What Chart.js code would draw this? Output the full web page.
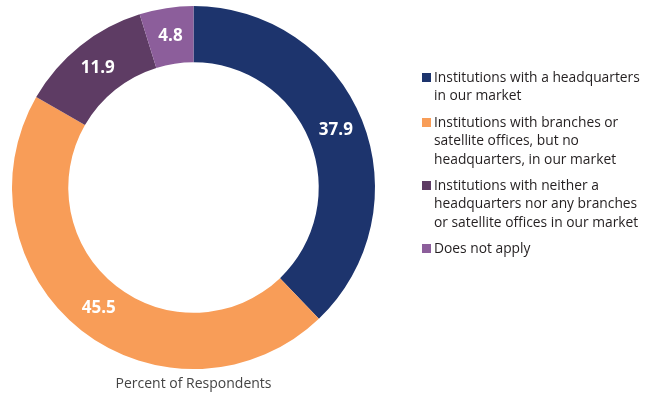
<!DOCTYPE html>
<html>
<head>
<meta charset="utf-8">
<script src="https://cdn.jsdelivr.net/npm/chart.js@4.4.1/dist/chart.umd.min.js"></script>
<style>
  html, body { margin: 0; padding: 0; background: #fff; }
  #wrap { position: relative; width: 658px; height: 393px; }
  #legend {
    position: absolute; left: 422px; top: 68px; width: 236px;
    font-family: "Open Sans", sans-serif; font-size: 13.8px; color: #231f20;
    line-height: 18.4px;
  }
  .item { display: flex; align-items: flex-start; margin-bottom: 8px; }
  .swatch { width: 9px; height: 9px; flex: none; margin: 5px 3px 0 0; }
</style>
</head>
<body>
<div id="wrap">
  <canvas id="chart" width="658" height="393"></canvas>
  <div id="legend"></div>
</div>
<script>
const categories = [
  "Institutions with a headquarters in our market",
  "Institutions with branches or satellite offices, but no headquarters, in our market",
  "Institutions with neither a headquarters nor any branches or satellite offices in our market",
  "Does not apply"
];
// manual line breaks for the legend
const legendLines = [
  ["Institutions with a headquarters", "in our market"],
  ["Institutions with branches or", "satellite offices, but no", "headquarters, in our market"],
  ["Institutions with neither a", "headquarters nor any branches", "or satellite offices in our market"],
  ["Does not apply"]
];
const values = [37.9, 45.5, 11.9, 4.8];
const colors = ["#1d346d", "#f89d58", "#5e3c64", "#8c5e9b"];

// white value labels in the middle of each arc
const arcLabels = {
  id: "arcLabels",
  afterDatasetsDraw(chart) {
    const ctx = chart.ctx;
    const meta = chart.getDatasetMeta(0);
    ctx.save();
    ctx.fillStyle = "#ffffff";
    ctx.font = "bold 17px 'Open Sans', sans-serif";
    ctx.textAlign = "center";
    ctx.textBaseline = "middle";
    meta.data.forEach((arc, i) => {
      const p = arc.tooltipPosition();
      ctx.fillText(values[i].toFixed(1), p.x, p.y);
    });
    ctx.restore();
  }
};

const chart = new Chart(document.getElementById("chart"), {
  type: "doughnut",
  data: {
    labels: categories,
    datasets: [{
      data: values,
      backgroundColor: colors,
      borderWidth: 0
    }]
  },
  options: {
    responsive: false,
    animation: false,
    cutout: "69%",
    layout: { padding: { left: 12, right: 283, top: 6, bottom: 0 } },
    plugins: {
      legend: { display: false },
      tooltip: { enabled: false },
      title: {
        display: true,
        position: "bottom",
        text: "Percent of Respondents",
        color: "#444444",
        font: { family: "'Open Sans', sans-serif", size: 14, weight: "normal" },
        padding: { top: 6, bottom: 1 }
      }
    }
  },
  plugins: [arcLabels]
});

// html legend built from the chart's data
const legend = document.getElementById("legend");
categories.forEach((c, i) => {
  const item = document.createElement("div");
  item.className = "item";
  const sw = document.createElement("span");
  sw.className = "swatch";
  sw.style.background = colors[i];
  const txt = document.createElement("span");
  txt.innerHTML = legendLines[i].join("<br>");
  item.appendChild(sw);
  item.appendChild(txt);
  legend.appendChild(item);
});
</script>
</body>
</html>
